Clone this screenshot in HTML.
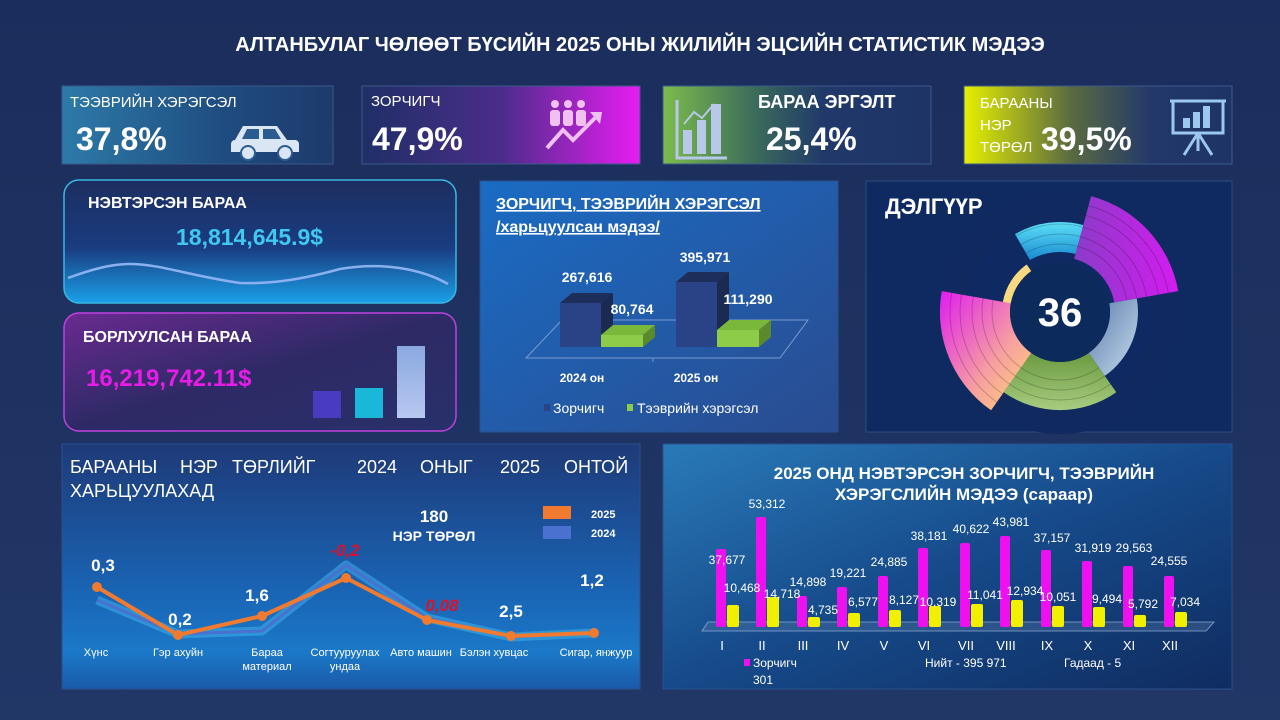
<!DOCTYPE html>
<html><head><meta charset="utf-8"><style>
html,body{margin:0;padding:0;background:#1d3160;}
svg{display:block;font-family:"Liberation Sans",sans-serif;}
</style></head><body>
<svg width="1280" height="720" viewBox="0 0 1280 720" xmlns="http://www.w3.org/2000/svg">
<defs>
<linearGradient id="bg" x1="0" y1="0" x2="0" y2="1"><stop offset="0" stop-color="#1b2d5c"/><stop offset="1" stop-color="#213766"/></linearGradient>
<linearGradient id="c1" x1="0" y1="0" x2="1" y2="0"><stop offset="0" stop-color="#2d7aa8"/><stop offset="0.6" stop-color="#1f4c80"/><stop offset="1" stop-color="#1d3a6c"/></linearGradient>
<linearGradient id="c2" x1="0" y1="0" x2="1" y2="0"><stop offset="0" stop-color="#1f2f66"/><stop offset="0.5" stop-color="#4a2d8a"/><stop offset="1" stop-color="#e81cf2"/></linearGradient>
<linearGradient id="c3" x1="0" y1="0" x2="1" y2="0"><stop offset="0" stop-color="#7cbc4c"/><stop offset="0.35" stop-color="#3a6a5a"/><stop offset="0.6" stop-color="#20386a"/><stop offset="1" stop-color="#1e3466"/></linearGradient>
<linearGradient id="c4" x1="0" y1="0" x2="1" y2="0"><stop offset="0" stop-color="#e6f000"/><stop offset="0.4" stop-color="#5a6a40"/><stop offset="0.7" stop-color="#22386a"/><stop offset="1" stop-color="#1e3466"/></linearGradient>
<linearGradient id="p1" x1="0" y1="0" x2="0" y2="1"><stop offset="0" stop-color="#1c2e60"/><stop offset="0.55" stop-color="#1a3c80"/><stop offset="1" stop-color="#1aa0e8"/></linearGradient>
<linearGradient id="p2" x1="0" y1="0" x2="1" y2="1"><stop offset="0" stop-color="#6a2a90"/><stop offset="0.5" stop-color="#2e2a66"/><stop offset="1" stop-color="#28306a"/></linearGradient>
<linearGradient id="p3" x1="0" y1="0" x2="1" y2="1"><stop offset="0" stop-color="#1a6cc4"/><stop offset="1" stop-color="#2a4c90"/></linearGradient>
<linearGradient id="p5" x1="0" y1="0" x2="0" y2="1"><stop offset="0" stop-color="#1e3a78"/><stop offset="0.6" stop-color="#1a64b4"/><stop offset="0.85" stop-color="#1b78c8"/><stop offset="1" stop-color="#1a5aa8"/></linearGradient>
<linearGradient id="p6" x1="0" y1="0" x2="1" y2="1"><stop offset="0" stop-color="#2a7ab8"/><stop offset="0.5" stop-color="#164a8a"/><stop offset="1" stop-color="#0f2c60"/></linearGradient>
<linearGradient id="pink" x1="0" y1="0" x2="1" y2="1"><stop offset="0" stop-color="#e01cf0"/><stop offset="0.6" stop-color="#f7a0a0"/><stop offset="1" stop-color="#ffd870"/></linearGradient>
<linearGradient id="purp" x1="0" y1="0" x2="1" y2="0"><stop offset="0" stop-color="#8a3cc8"/><stop offset="1" stop-color="#d41cf0"/></linearGradient>
<linearGradient id="grn" x1="0" y1="0" x2="0" y2="1"><stop offset="0" stop-color="#6a9a40"/><stop offset="1" stop-color="#a8cc80"/></linearGradient>
<linearGradient id="cy" x1="0" y1="0" x2="0" y2="1"><stop offset="0" stop-color="#5ce0f8"/><stop offset="1" stop-color="#1a8ad0"/></linearGradient>
<linearGradient id="lb" x1="0" y1="0" x2="1" y2="1"><stop offset="0" stop-color="#5a7aa8"/><stop offset="1" stop-color="#c8ddf0"/></linearGradient>
<linearGradient id="b3" x1="0" y1="0" x2="0" y2="1"><stop offset="0" stop-color="#8aa8e0"/><stop offset="1" stop-color="#b8c8f0"/></linearGradient>
<clipPath id="segclip">
<path d="M1015,234.1 A90,90 0 0 1 1083.3,225.1 L1075.5,254 A60,60 0 0 0 1030,260 Z"/>
<path d="M1091.1,196.1 A120,120 0 0 1 1178.2,291.1 L1114.2,302.4 A55,55 0 0 0 1074.2,258.9 Z"/>
<path d="M1116.3,392.3 A98,98 0 0 1 1003.7,392.3 L1031.3,352.95 A50,50 0 0 0 1088.7,352.95 Z"/>
<path d="M991.1,410.3 A120,120 0 0 1 941.8,291.1 L1010.75,303.3 A50,50 0 0 0 1031.3,352.95 Z"/>
</clipPath>
</defs>
<rect width="1280" height="720" fill="url(#bg)"/>
<text x="640" y="51" text-anchor="middle" fill="#fff" font-size="20" font-weight="bold">АЛТАНБУЛАГ ЧӨЛӨӨТ БҮСИЙН 2025 ОНЫ ЖИЛИЙН ЭЦСИЙН СТАТИСТИК МЭДЭЭ</text>

<!-- top cards -->
<rect x="62" y="86" width="271" height="78" fill="url(#c1)" stroke="#3a5a8a"/>
<text x="70" y="107" fill="#fff" font-size="15">ТЭЭВРИЙН ХЭРЭГСЭЛ</text>
<text x="76" y="150" fill="#fff" font-size="32" font-weight="bold">37,8%</text>
<g fill="#dbe6f5"><path d="M235,140 l8,-14 h34 l10,14 h8 a4,4 0 0 1 4,4 v8 h-68 v-8 a4,4 0 0 1 4,-4z"/></g>
<path d="M247,129 h12 v10 h-17z M263,129 h12 l6,10 h-18z" fill="#2a5c90"/>
<circle cx="248" cy="153" r="7" fill="#dbe6f5" stroke="#2a5c90" stroke-width="2"/><circle cx="285" cy="153" r="7" fill="#dbe6f5" stroke="#2a5c90" stroke-width="2"/>

<rect x="362" y="86" width="278" height="78" fill="url(#c2)" stroke="#3a5a8a"/>
<text x="371" y="106" fill="#fff" font-size="15">ЗОРЧИГЧ</text>
<text x="372" y="150" fill="#fff" font-size="32" font-weight="bold">47,9%</text>
<g fill="#f0c0f0"><circle cx="555" cy="104" r="4"/><circle cx="568" cy="104" r="4"/><circle cx="581" cy="104" r="4"/>
<rect x="550" y="110" width="10" height="16" rx="3"/><rect x="563" y="110" width="10" height="16" rx="3"/><rect x="576" y="110" width="10" height="16" rx="3"/></g>
<path d="M547,148 l16,-18 l10,10 l22,-22" stroke="#f0c0f0" stroke-width="4" fill="none"/><path d="M590,112 l12,0 l-2,12z" fill="#f0c0f0"/>

<rect x="663" y="86" width="268" height="78" fill="url(#c3)" stroke="#3a5a8a"/>
<g fill="none" stroke="#b8c8e8" stroke-width="3"><path d="M677,100 v58 h50"/></g>
<g fill="#b8c8e8"><rect x="683" y="130" width="9" height="24"/><rect x="697" y="120" width="9" height="34"/><rect x="711" y="104" width="10" height="50"/></g>
<path d="M684,124 l10,-12 l8,6 l12,-14" stroke="#b8c8e8" stroke-width="2" fill="none"/>
<text x="758" y="108" fill="#fff" font-size="18" font-weight="bold">БАРАА ЭРГЭЛТ</text>
<text x="766" y="150" fill="#fff" font-size="32" font-weight="bold">25,4%</text>

<rect x="964" y="86" width="268" height="78" fill="url(#c4)" stroke="#3a5a8a"/>
<text x="980" y="108" fill="#fff" font-size="15">БАРААНЫ</text>
<text x="980" y="130" fill="#fff" font-size="15">НЭР</text>
<text x="980" y="152" fill="#fff" font-size="15">ТӨРӨЛ</text>
<text x="1041" y="150" fill="#fff" font-size="32" font-weight="bold">39,5%</text>
<g stroke="#9cc8f0" stroke-width="3" fill="none"><rect x="1173" y="101" width="50" height="32"/><path d="M1198,133 v18 M1198,133 l-14,22 M1198,133 l14,22 M1170,101 h56"/></g>
<g fill="#9cc8f0"><rect x="1183" y="118" width="7" height="10"/><rect x="1193" y="112" width="7" height="16"/><rect x="1203" y="106" width="7" height="22"/></g>

<!-- НЭВТЭРСЭН БАРАА -->
<rect x="64" y="180" width="392" height="123" rx="15" fill="url(#p1)" stroke="#3ab8e0" stroke-width="1.5"/>
<text x="88" y="208" fill="#fff" font-size="16" font-weight="bold">НЭВТЭРСЭН БАРАА</text>
<text x="176" y="245" fill="#40c8f0" font-size="23" font-weight="bold">18,814,645.9$</text>
<path d="M68,278 C90,270 110,264 130,264 C160,264 190,276 240,283 C270,284 300,280 340,269 C380,262 420,268 448,284" stroke="#8ab0f0" stroke-width="2.5" fill="none"/>

<!-- БОРЛУУЛСАН -->
<rect x="64" y="313" width="392" height="118" rx="15" fill="url(#p2)" stroke="#c040e0" stroke-width="1.5"/>
<text x="83" y="342" fill="#fff" font-size="16" font-weight="bold">БОРЛУУЛСАН БАРАА</text>
<text x="86" y="386" fill="#e81ce8" font-size="24" font-weight="bold">16,219,742.11$</text>
<rect x="313" y="391" width="28" height="27" fill="#4a3cc0"/>
<rect x="355" y="388" width="28" height="30" fill="#1ab8d8"/>
<rect x="397" y="346" width="28" height="72" fill="url(#b3)"/>

<!-- middle 3D chart -->
<rect x="480" y="181" width="358" height="251" fill="url(#p3)" stroke="#2a5090"/>
<text x="496" y="209" fill="#fff" font-size="16" font-weight="bold" text-decoration="underline">ЗОРЧИГЧ, ТЭЭВРИЙН ХЭРЭГСЭЛ</text>
<text x="496" y="232" fill="#fff" font-size="16" font-weight="bold" text-decoration="underline">/харьцуулсан мэдээ/</text>
<path d="M526,358 L562,320 L808,320 L780,358 Z" fill="none" stroke="#7a9ad0" stroke-width="1"/>
<line x1="526" y1="358" x2="780" y2="358" stroke="#7a9ad0"/><line x1="653" y1="358" x2="653" y2="362" stroke="#7a9ad0"/>
<path d="M560,303 l12,-10 h41 l-12,10z" fill="#1e2e5a"/><path d="M601,303 l12,-10 v44 l-12,10z" fill="#1a2a50"/>
<rect x="560" y="303" width="41" height="44" fill="#2a4286"/>
<path d="M601,335 l12,-10 h42 l-12,10z" fill="#7ab83c"/><path d="M643,335 l12,-10 v12 l-12,10z" fill="#5a8a2c"/>
<rect x="601" y="335" width="42" height="12" fill="#8ccc48"/>
<path d="M676,282 l12,-10 h41 l-12,10z" fill="#1e2e5a"/><path d="M717,282 l12,-10 v65 l-12,10z" fill="#1a2a50"/>
<rect x="676" y="282" width="41" height="65" fill="#2a4286"/>
<path d="M717,330 l12,-10 h42 l-12,10z" fill="#7ab83c"/><path d="M759,330 l12,-10 v17 l-12,10z" fill="#5a8a2c"/>
<rect x="717" y="330" width="42" height="17" fill="#8ccc48"/>
<g fill="#fff" font-size="14" font-weight="bold" text-anchor="middle">
<text x="587" y="282">267,616</text><text x="632" y="314">80,764</text>
<text x="705" y="262">395,971</text><text x="748" y="304">111,290</text></g>
<g fill="#fff" font-size="12" font-weight="bold" text-anchor="middle"><text x="582" y="382">2024 он</text><text x="696" y="382">2025 он</text></g>
<rect x="544" y="404" width="6" height="7" fill="#2a4286"/><text x="553" y="413" fill="#fff" font-size="14">Зорчигч</text>
<rect x="627" y="404" width="6" height="7" fill="#8ccc48"/><text x="637" y="413" fill="#fff" font-size="14">Тээврийн  хэрэгсэл</text>

<!-- donut -->
<rect x="866" y="181" width="366" height="251" fill="#0f2a60" stroke="#2d4a80"/>
<text x="885" y="214" fill="#fff" font-size="22" font-weight="bold">ДЭЛГҮҮР</text>
<circle cx="1060" cy="312" r="122" fill="#10295e"/>
<circle cx="1060" cy="312" r="95" fill="#0f2a62"/>
<path d="M1015,234.1 A90,90 0 0 1 1083.3,225.1 L1075.5,254 A60,60 0 0 0 1030,260 Z" fill="url(#cy)"/>
<path d="M1091.1,196.1 A120,120 0 0 1 1178.2,291.1 L1114.2,302.4 A55,55 0 0 0 1074.2,258.9 Z" fill="url(#purp)"/>
<path d="M1136.8,298.5 A78,78 0 0 1 1104.8,375.9 L1088.7,352.95 A50,50 0 0 0 1109.3,303.3 Z" fill="url(#lb)"/>
<path d="M1116.3,392.3 A98,98 0 0 1 1003.7,392.3 L1031.3,352.95 A50,50 0 0 0 1088.7,352.95 Z" fill="url(#grn)"/>
<path d="M991.1,410.3 A120,120 0 0 1 941.8,291.1 L1010.75,303.3 A50,50 0 0 0 1031.3,352.95 Z" fill="url(#pink)"/>
<path d="M1002.9,301.9 A58,58 0 0 1 1026.7,264.5 L1032.4,272.7 A48,48 0 0 0 1012.7,303.7 Z" fill="#f8d880"/>
<g fill="none" stroke="#000" stroke-opacity="0.2" stroke-width="1" clip-path="url(#segclip)">
<circle cx="1060" cy="312" r="68"/><circle cx="1060" cy="312" r="78"/><circle cx="1060" cy="312" r="88"/><circle cx="1060" cy="312" r="100"/><circle cx="1060" cy="312" r="110"/></g>
<circle cx="1060" cy="312" r="50" fill="#0d2a5c"/>
<text x="1060" y="326" text-anchor="middle" fill="#fff" font-size="40" font-weight="bold">36</text>

<!-- bottom left line chart -->
<rect x="62" y="444" width="578" height="245" fill="url(#p5)" stroke="#2a5090"/>
<g fill="#fff" font-size="18">
<text x="70" y="473">БАРААНЫ</text><text x="180" y="473">НЭР</text><text x="232" y="473">ТӨРЛИЙГ</text><text x="357" y="473">2024</text><text x="420" y="473">ОНЫГ</text><text x="500" y="473">2025</text><text x="564" y="473">ОНТОЙ</text>
<text x="70" y="497">ХАРЬЦУУЛАХАД</text></g>
<text x="434" y="522" text-anchor="middle" fill="#fff" font-size="17" font-weight="bold">180</text>
<text x="434" y="541" text-anchor="middle" fill="#fff" font-size="14" font-weight="bold">НЭР ТӨРӨЛ</text>
<rect x="543" y="506" width="28" height="13" fill="#f07a30"/><text x="591" y="518" fill="#fff" font-size="11" font-weight="bold">2025</text>
<rect x="543" y="526" width="28" height="13" fill="#4a70d0"/><text x="591" y="537" fill="#fff" font-size="11" font-weight="bold">2024</text>
<polyline points="97,600 178,634 262,631 346,565 427,618 511,637 594,633" fill="none" stroke="#40b8f0" stroke-opacity="0.5" stroke-width="9" stroke-linejoin="round"/>
<polyline points="97,600 178,634 262,631 346,565 427,618 511,637 594,633" fill="none" stroke="#4a70d0" stroke-width="3"/>
<polyline points="97,587 178,635 262,616 346,578 427,620 511,636 594,633" fill="none" stroke="#f07a30" stroke-width="4" stroke-linejoin="round"/>
<g fill="#f07a30"><circle cx="97" cy="587" r="5"/><circle cx="178" cy="635" r="5"/><circle cx="262" cy="616" r="5"/><circle cx="346" cy="578" r="5"/><circle cx="427" cy="620" r="5"/><circle cx="511" cy="636" r="5"/><circle cx="594" cy="633" r="5"/></g>
<g fill="#fff" font-size="17" font-weight="bold" text-anchor="middle">
<text x="103" y="571">0,3</text><text x="180" y="625">0,2</text><text x="257" y="601">1,6</text><text x="511" y="617">2,5</text><text x="592" y="586">1,2</text></g>
<g fill="#e0102a" font-size="17" font-weight="bold" font-style="italic" text-anchor="middle"><text x="345" y="556">-0,2</text><text x="442" y="611">0,08</text></g>
<g fill="#fff" font-size="11" text-anchor="middle">
<text x="96" y="656">Хүнс</text><text x="178" y="656">Гэр ахуйн</text><text x="267" y="656">Бараа</text><text x="267" y="670">материал</text>
<text x="345" y="656">Согтууруулах</text><text x="345" y="670">ундаа</text><text x="421" y="656">Авто  машин</text><text x="494" y="656">Бэлэн хувцас</text><text x="596" y="656">Сигар, янжуур</text></g>

<!-- bottom right bar chart -->
<rect x="663" y="444" width="569" height="245" fill="url(#p6)" stroke="#2a5090"/>
<text x="964" y="479" text-anchor="middle" fill="#fff" font-size="17" font-weight="bold">2025 ОНД НЭВТЭРСЭН ЗОРЧИГЧ, ТЭЭВРИЙН</text>
<text x="964" y="500" text-anchor="middle" fill="#fff" font-size="17" font-weight="bold">ХЭРЭГСЛИЙН МЭДЭЭ (сараар)</text>
<path d="M702,631 L708,622 L1214,622 L1206,631 Z" fill="#5a7aa8" fill-opacity="0.35" stroke="#8aa8d0" stroke-width="0.8"/>
<g fill="#ee10ee">
<rect x="716" y="549" width="10" height="78" rx="2"/>
<rect x="756" y="517" width="10" height="110" rx="2"/>
<rect x="797" y="596" width="10" height="31" rx="2"/>
<rect x="837" y="587" width="10" height="40" rx="2"/>
<rect x="878" y="576" width="10" height="51" rx="2"/>
<rect x="918" y="548" width="10" height="79" rx="2"/>
<rect x="960" y="543" width="10" height="84" rx="2"/>
<rect x="1000" y="536" width="10" height="91" rx="2"/>
<rect x="1041" y="550" width="10" height="77" rx="2"/>
<rect x="1082" y="561" width="10" height="66" rx="2"/>
<rect x="1123" y="566" width="10" height="61" rx="2"/>
<rect x="1164" y="576" width="10" height="51" rx="2"/></g>
<g fill="#f0f000">
<rect x="727" y="605" width="12" height="22" rx="2"/>
<rect x="767" y="597" width="12" height="30" rx="2"/>
<rect x="808" y="617" width="12" height="10" rx="2"/>
<rect x="848" y="613" width="12" height="14" rx="2"/>
<rect x="889" y="610" width="12" height="17" rx="2"/>
<rect x="929" y="606" width="12" height="21" rx="2"/>
<rect x="971" y="604" width="12" height="23" rx="2"/>
<rect x="1011" y="600" width="12" height="27" rx="2"/>
<rect x="1052" y="606" width="12" height="21" rx="2"/>
<rect x="1093" y="607" width="12" height="20" rx="2"/>
<rect x="1134" y="615" width="12" height="12" rx="2"/>
<rect x="1175" y="612" width="12" height="15" rx="2"/></g>
<g fill="#fff" font-size="12" text-anchor="middle">
<text x="727" y="564">37,677</text><text x="767" y="508">53,312</text><text x="808" y="586">14,898</text><text x="848" y="577">19,221</text>
<text x="889" y="566">24,885</text><text x="929" y="540">38,181</text><text x="971" y="533">40,622</text><text x="1011" y="526">43,981</text>
<text x="1052" y="542">37,157</text><text x="1093" y="552">31,919</text><text x="1134" y="552">29,563</text><text x="1169" y="565">24,555</text>
<text x="742" y="592">10,468</text><text x="782" y="598">14,718</text><text x="823" y="614">4,735</text><text x="863" y="606">6,577</text>
<text x="904" y="604">8,127</text><text x="938" y="606">10,319</text><text x="985" y="599">11,041</text><text x="1025" y="595">12,934</text>
<text x="1058" y="601">10,051</text><text x="1107" y="603">9,494</text><text x="1143" y="608">5,792</text><text x="1185" y="606">7,034</text></g>
<g fill="#fff" font-size="13" text-anchor="middle">
<text x="722" y="650">I</text><text x="762" y="650">II</text><text x="803" y="650">III</text><text x="843" y="650">IV</text><text x="884" y="650">V</text><text x="924" y="650">VI</text>
<text x="966" y="650">VII</text><text x="1006" y="650">VIII</text><text x="1047" y="650">IX</text><text x="1088" y="650">X</text><text x="1129" y="650">XI</text><text x="1170" y="650">XII</text></g>
<rect x="744" y="659" width="6" height="7" fill="#ee10ee"/>
<g fill="#fff" font-size="12"><text x="753" y="667">Зорчигч</text><text x="753" y="684">301</text>
<text x="925" y="667">Нийт  - 395  971</text><text x="1064" y="667">Гадаад  - 5</text></g>
</svg>
</body></html>
